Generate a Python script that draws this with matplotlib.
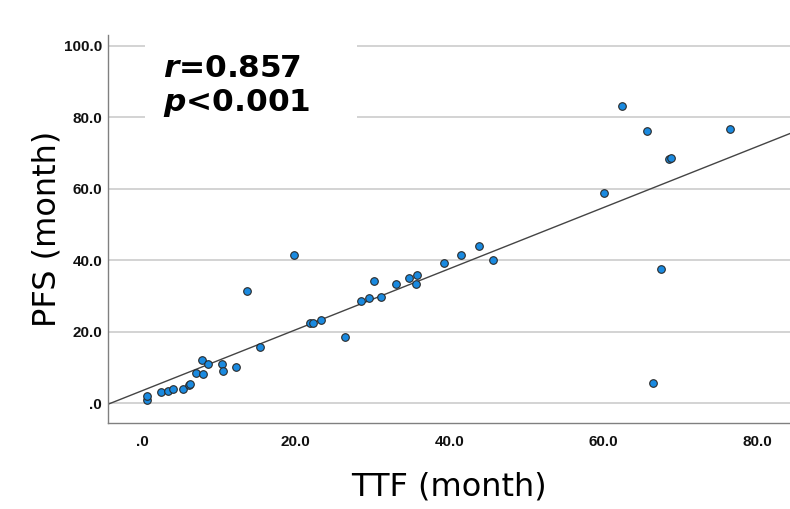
import numpy as np
import matplotlib
matplotlib.use("Agg")
import matplotlib.pyplot as plt
from matplotlib.patches import Rectangle

# TTF / PFS in months
ttf = [0.6, 0.7, 2.5, 3.4, 4.0, 5.4, 6.1, 6.2, 7.0, 7.8, 8.6, 7.9, 10.4, 10.5,
       12.2, 15.4, 21.9, 22.2, 23.3, 26.4, 13.6, 19.8, 28.5, 29.5, 30.1, 31.0,
       33.0, 34.7, 35.7, 35.6, 39.2, 41.4, 43.8, 45.6, 62.4, 65.6, 76.4, 68.5,
       68.8, 60.0, 67.4, 66.4]
pfs = [0.9, 2.0, 3.2, 3.4, 4.1, 4.1, 5.1, 5.3, 8.6, 12.1, 11.1, 8.1, 10.9, 9.0,
       10.1, 15.7, 22.5, 22.4, 23.3, 18.5, 31.4, 41.4, 28.7, 29.4, 34.3, 29.7,
       33.4, 35.1, 35.8, 33.3, 39.2, 41.5, 43.9, 40.1, 83.2, 76.3, 76.6, 68.4,
       68.5, 58.7, 37.5, 5.6]

xticks = [0, 20, 40, 60, 80]
xticklabels = [".0", "20.0", "40.0", "60.0", "80.0"]
yticks = [0, 20, 40, 60, 80, 100]
yticklabels = [".0", "20.0", "40.0", "60.0", "80.0", "100.0"]
r_text = "0.857"
p_text = "0.001"

plt.rcParams['mathtext.fontset'] = 'custom'
plt.rcParams['mathtext.it'] = 'DejaVu Sans:italic:bold'
plt.rcParams['mathtext.rm'] = 'DejaVu Sans:bold'
plt.rcParams['mathtext.bf'] = 'DejaVu Sans:bold'

fig = plt.figure(figsize=[7.9, 5.09], dpi=100)
ax = fig.add_axes([0.1363, 0.169, 0.8637, 0.762])

x = np.array(ttf)
y = np.array(pfs)
k, b = np.polyfit(x, y, deg=1)

xmin, xmax = -4.45, 84.2
ax.set_xlim(xmin, xmax)
ax.set_ylim(-5.5, 103.0)

for t in yticks:
    ax.axhline(t, color='#d0d0d0', linewidth=1.3, zorder=0)

# white panel behind the r / p text (hides the grid there)
ax.add_patch(Rectangle((145/790, 1-125/509), 212/790, 85/509, transform=fig.transFigure,
                       facecolor='white', edgecolor='none', zorder=1))

x_ = np.array([xmin, xmax])
ax.plot(x_, k*x_+b, color='#444444', linewidth=1.0, zorder=2)
ax.scatter(x, y, s=30, color='#1a8ae0', edgecolors='#2a2a2a', linewidths=0.8, zorder=3)

ax.set_xticks(xticks)
ax.set_xticklabels(xticklabels)
ax.set_yticks(yticks)
ax.set_yticklabels(yticklabels)
ax.tick_params(length=0, labelsize=11)
ax.tick_params(axis='x', pad=9)
ax.tick_params(axis='y', pad=4)
for lab in ax.get_xticklabels() + ax.get_yticklabels():
    lab.set_family('Liberation Sans')
    lab.set_fontweight('bold')
    lab.set_color('#111111')

for s in ['top', 'right']:
    ax.spines[s].set_visible(False)
for s in ['left', 'bottom']:
    ax.spines[s].set_color('#808080')
    ax.spines[s].set_linewidth(1.0)

ax.set_xlabel("TTF (month)", fontsize=23, family='DejaVu Sans', labelpad=16)
ax.set_ylabel("PFS (month)", fontsize=23, family='DejaVu Sans', labelpad=1)

ax.text(163/790, 1-111/509, f"$r$={r_text}\n$p$<{p_text}", transform=fig.transFigure,
        fontsize=22.5, fontweight='bold', family='DejaVu Sans', va='baseline', ha='left',
        linespacing=1.18, zorder=4)

fig.savefig("out.png", dpi=100)
